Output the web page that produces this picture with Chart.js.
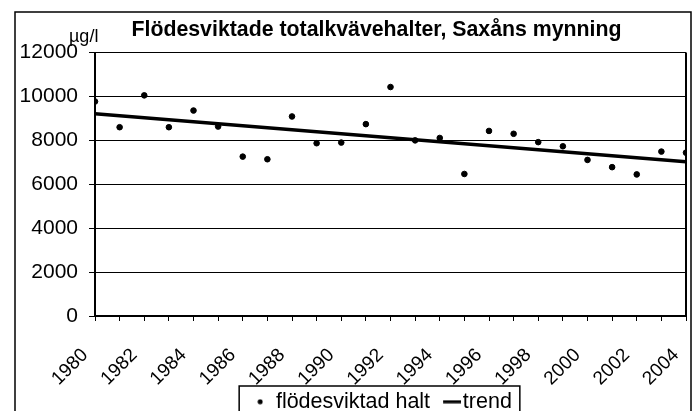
<!DOCTYPE html>
<html>
<head>
<meta charset="utf-8">
<script src="https://cdn.jsdelivr.net/npm/chart.js@4/dist/chart.umd.min.js"></script>
<style>
  html, body { margin: 0; padding: 0; background: #fff; }
  #wrap { width: 694px; height: 411px; }
</style>
</head>
<body>
<div id="wrap"><canvas id="chart"></canvas></div>
<script>
// data
const years = [1980, 1981, 1982, 1983, 1984, 1985, 1986, 1987, 1988, 1989, 1990, 1991, 1992,
               1993, 1994, 1995, 1996, 1997, 1998, 1999, 2000, 2001, 2002, 2003, 2004];
const halt = [9770, 8600, 10050, 8600, 9360, 8630, 7260, 7140, 9090, 7870, 7900, 8740, 10430,
              8000, 8110, 6470, 8430, 8300, 7920, 7730, 7110, 6780, 6450, 7490, 7440];
const trendYears = [1980, 2004];
const trendValues = [9210, 7030];
const yTicks = [0, 2000, 4000, 6000, 8000, 10000, 12000];
const xLabelYears = [1980, 1982, 1984, 1986, 1988, 1990, 1992, 1994, 1996, 1998, 2000, 2002, 2004];

const titleText = 'Flödesviktade totalkvävehalter, Saxåns mynning';
const unitText = 'µg/l';

Chart.defaults.font.family = "'Liberation Sans', Arial, sans-serif";
Chart.defaults.color = '#000';

// legend markers: a small dot and a short line sitting close to its text
const dot = document.createElement('canvas');
dot.width = 6;
dot.height = 6;
let c = dot.getContext('2d');
c.fillStyle = '#000';
c.beginPath();
c.arc(3, 3, 2.5, 0, Math.PI * 2);
c.fill();

const dash = document.createElement('canvas');
dash.width = 28;
dash.height = 4;
c = dash.getContext('2d');
c.fillStyle = '#000';
c.fillRect(10, 0.5, 18, 3);

const framePlugin = {
  id: 'frame',
  afterInit(chart) {
    // keep the legend short so the rotated year labels get room
    const lg = chart.legend;
    const fit = lg.fit;
    lg.fit = function () {
      fit.call(this);
      this.height = 23;
    };
  },
  afterLayout(chart) {
    // title and legend are centred over the plot, not the canvas
    const shift = chart.chartArea.left - 28;
    chart.titleBlock.left += shift;
    const lg = chart.legend;
    lg.left += shift + 14;
    lg.top = chart.height - 32;
    lg.bottom = chart.height + 30;
  },
  beforeDraw(chart) {
    const ctx = chart.ctx;
    ctx.save();
    ctx.fillStyle = '#fff';
    ctx.fillRect(0, 0, chart.width, chart.height);
    ctx.strokeStyle = '#000';
    ctx.lineWidth = 1.5;
    ctx.strokeRect(15, 12, 676, chart.height + 20);
    ctx.restore();
  },
  afterDraw(chart) {
    const ctx = chart.ctx;
    const a = chart.chartArea;
    ctx.save();
    ctx.strokeStyle = '#000';
    ctx.lineWidth = 2;
    ctx.beginPath();
    ctx.moveTo(a.right, a.top);
    ctx.lineTo(a.right, a.bottom);
    ctx.stroke();

    // unit label above the y axis
    ctx.fillStyle = '#000';
    ctx.font = "18px 'Liberation Sans', Arial, sans-serif";
    ctx.textAlign = 'left';
    ctx.textBaseline = 'alphabetic';
    ctx.fillText(unitText, a.left - 26, a.top - 11);

    // box around the legend
    const hb = chart.legend.legendHitBoxes;
    if (hb && hb.length) {
      const l = hb[0].left - 16;
      const last = hb[hb.length - 1];
      const r = last.left + last.width + 8;
      const t = hb[0].top - 5;
      ctx.lineWidth = 1.5;
      ctx.strokeRect(l, t, r - l, chart.height);
    }
    ctx.restore();
  }
};

new Chart(document.getElementById('chart'), {
  type: 'scatter',
  data: {
    datasets: [
      {
        label: 'flödesviktad halt',
        data: years.map((y, i) => ({ x: y, y: halt[i] })),
        backgroundColor: '#000',
        borderColor: '#000',
        pointRadius: 2.8,
        pointHoverRadius: 2.8
      },
      {
        label: 'trend',
        data: trendYears.map((y, i) => ({ x: y, y: trendValues[i] })),
        showLine: true,
        borderColor: '#000',
        backgroundColor: '#000',
        borderWidth: 3.5,
        pointRadius: 0
      }
    ]
  },
  options: {
    responsive: true,
    maintainAspectRatio: false,
    animation: false,
    events: [],
    layout: { padding: { left: 0, right: 8, top: 0, bottom: 0 } },
    plugins: {
      tooltip: { enabled: false },
      title: {
        display: true,
        text: titleText,
        color: '#000',
        font: { size: 21.3, weight: 'bold' },
        padding: { top: 17, bottom: 10 }
      },
      legend: {
        position: 'bottom',
        labels: {
          usePointStyle: true,
          pointStyleWidth: 10,
          padding: 12,
          color: '#000',
          font: { size: 21.5 },
          generateLabels(chart) {
            const items = Chart.defaults.plugins.legend.labels.generateLabels(chart);
            items[0].pointStyle = dot;
            items[1].pointStyle = dash;
            return items;
          }
        }
      }
    },
    scales: {
      x: {
        type: 'linear',
        min: 1980,
        max: 2004,
        afterFit(s) {
          s.height = 72;
          s.paddingRight = 0;
        },
        ticks: {
          stepSize: 1,
          autoSkip: false,
          maxRotation: 45,
          minRotation: 45,
          padding: 23,
          labelOffset: -10,
          font: { size: 19 },
          color: '#000',
          callback: v => (xLabelYears.includes(v) ? String(v) : '')
        },
        grid: { drawOnChartArea: false, color: '#000', tickLength: 5 },
        border: { color: '#000', width: 2 }
      },
      y: {
        min: 0,
        max: 12000,
        afterFit(s) { s.width = 95; },
        afterBuildTicks(s) { s.ticks = yTicks.map(v => ({ value: v })); },
        ticks: {
          padding: 11,
          font: { size: 21 },
          color: '#000',
          callback: v => String(v)
        },
        grid: { color: '#000', lineWidth: 1, tickLength: 6 },
        border: { color: '#000', width: 2 }
      }
    }
  },
  plugins: [framePlugin]
});
</script>
</body>
</html>
